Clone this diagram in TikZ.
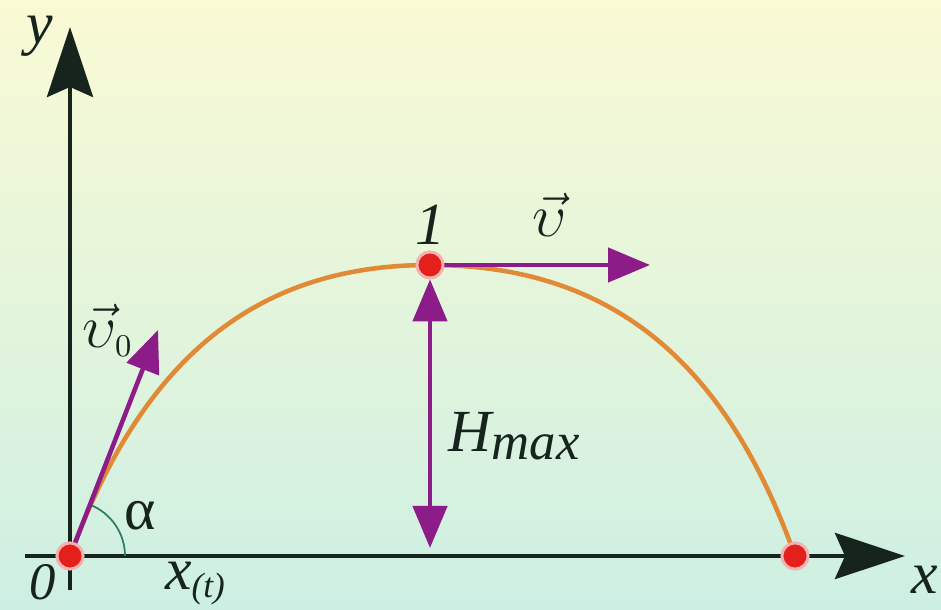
\documentclass[tikz,border=0pt]{standalone}
\usepackage{fontspec}
\setmainfont{Liberation Serif}
\usetikzlibrary{arrows.meta}
\definecolor{bgtop}{HTML}{FAFAD4}
\definecolor{bgbot}{HTML}{CDEFE3}
\definecolor{ink}{HTML}{17241E}
\definecolor{plum}{HTML}{8C1C88}
\definecolor{orbit}{HTML}{E08A35}
\definecolor{dot}{HTML}{E3201B}
\definecolor{angle}{HTML}{2E7D6A}
\tikzset{
  axis/.style={-{Stealth[length=7mm,width=4.6mm,inset=1mm]},line width=1.3pt,draw=ink},
  vel/.style={-{Triangle[length=4.2mm,width=3.4mm]},line width=1.3pt,draw=plum},
  hgt/.style={{Triangle[length=4.2mm,width=3.4mm]}-{Triangle[length=4.2mm,width=3.4mm]},line width=1.3pt,draw=plum},
  traj/.style={line width=1.3pt,draw=orbit},
  pt/.style={circle,fill=dot,draw=dot!35!white,line width=.8pt,inner sep=0pt,minimum size=2.6mm},
  lbl/.style={font=\fontsize{17}{20}\selectfont\itshape,text=ink,inner sep=0pt}
}
\begin{document}
\begin{tikzpicture}
\useasboundingbox (0,0) rectangle (9.41,6.10);
\shade[top color=bgtop,bottom color=bgbot] (0,0) rectangle (9.41,6.10);

\coordinate (ybot) at (0.70,0.20);
\coordinate (ytop) at (0.70,5.83);
\coordinate (xl) at (0.25,0.54);
\coordinate (xr) at (9.05,0.54);
\draw[axis] (ybot) -- (ytop);
\draw[axis] (xl) -- (xr);

\node[pt] (O) at (0.70,0.54) {};
\node[pt] (top) at (4.30,3.45) {};
\node[pt] (land) at (7.95,0.54) {};
\coordinate (v0tip) at (1.58,2.80);
\coordinate (vtip) at (6.50,3.45);
\coordinate (foot) at (4.30,0.62);

\draw[traj] (O.center) .. controls (1.40,2.45) and (2.5,3.45) .. (top.center) .. controls (6.1,3.45) and (7.25,2.5) .. (land.center);
\draw[angle,line width=.5pt] ([shift={(0:0.55)}]O.center) arc (0:68.7:0.55);
\draw[vel] (O.center) -- (v0tip);
\draw[vel] (top.center) -- (vtip);
\draw[hgt] (foot) -- (top.south);
\node[pt] at (O) {};
\node[pt] at (top) {};
\node[pt] at (land) {};

\node[lbl] (ylab) at (0.40,5.74) {y};
\node[lbl] (xlab) at (9.25,0.30) {x};
\node[lbl,font=\fontsize{15}{18}\selectfont\itshape] (zero) at (0.43,0.28) {0};
\node[lbl] (xt) at (1.95,0.26) {x\raisebox{-0.8mm}{\fontsize{10}{12}\selectfont(t)}};
\node[lbl] (one) at (4.30,3.85) {1};
\node[lbl] (vlab) at (5.50,3.95) {\fontsize{19}{22}\selectfont$\vec{\upsilon}$};
\node[lbl] (v0lab) at (1.08,2.80) {\fontsize{19}{22}\selectfont$\vec{\upsilon}_{\scriptscriptstyle 0}$};
\node[lbl] (alab) at (1.40,0.94) {\upshape α};
\node[lbl,anchor=west] (hlab) at (4.48,1.74) {H\raisebox{-0.8mm}{\fontsize{15}{16}\selectfont max}};
\end{tikzpicture}
\end{document}
